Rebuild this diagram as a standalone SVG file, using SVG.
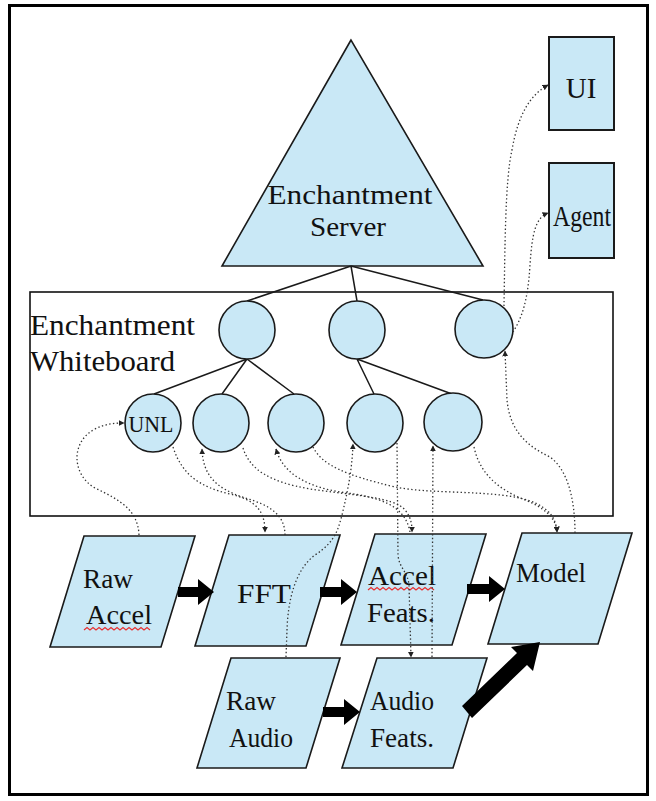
<svg xmlns="http://www.w3.org/2000/svg" width="656" height="801" viewBox="0 0 656 801">
<defs>
<style>
.node{fill:#c9e8f6;stroke:#1a1a1a;stroke-width:1.6}
.box{fill:#c9e8f6;stroke:#1a1a1a;stroke-width:2}
.tree{fill:none;stroke:#1a1a1a;stroke-width:1.5}
.dota{fill:none;stroke:#333;stroke-width:1.3;stroke-dasharray:1.4 2.4;marker-end:url(#ah)}
.big{fill:#000}
.t{font-family:"Liberation Serif","Times New Roman",serif;fill:#111}
.sq{fill:none;stroke:#e83030;stroke-width:1.2}
</style>
<marker id="ah" viewBox="0 0 10 10" refX="9" refY="5" markerWidth="6" markerHeight="6" orient="auto" markerUnits="userSpaceOnUse">
<path d="M0,0 L10,5 L0,10 z" fill="#222"/>
</marker>
</defs>
<rect x="0" y="0" width="656" height="801" fill="#fff"/>
<rect x="9.5" y="5.5" width="638" height="789" fill="none" stroke="#000" stroke-width="3"/>

<g id="server">
<polygon class="node" points="351,40 222,266 483,266"/>
<text class="t" x="350" y="204" font-size="28" text-anchor="middle" textLength="165" lengthAdjust="spacingAndGlyphs">Enchantment</text>
<text class="t" x="348" y="236" font-size="28" text-anchor="middle" textLength="76" lengthAdjust="spacingAndGlyphs">Server</text>
</g>
<g id="ui">
<rect class="box" x="549" y="37" width="65" height="93"/>
<text class="t" x="581" y="98" font-size="29" text-anchor="middle">UI</text>
</g>
<g id="agent">
<rect class="box" x="549" y="163" width="65" height="95"/>
<text class="t" x="582" y="226" font-size="30" text-anchor="middle" textLength="58" lengthAdjust="spacingAndGlyphs">Agent</text>
</g>

<g id="whiteboard">
<rect x="30" y="292" width="583" height="224" fill="none" stroke="#111" stroke-width="1.6"/>
<text class="t" x="30" y="335" font-size="30" textLength="165" lengthAdjust="spacingAndGlyphs">Enchantment</text>
<text class="t" x="30" y="371" font-size="30" textLength="145" lengthAdjust="spacingAndGlyphs">Whiteboard</text>
</g>

<g id="tree-links">
<path class="tree" d="M351,266 L247,301 M351,266 L357,301 M351,266 L483,300"/>
<path class="tree" d="M247,359 L154,394 M247,359 L222,394 M247,359 L294,394 M357,359 L374,394 M357,359 L452,394"/>
</g>

<g id="wb-top-1"><ellipse class="node" cx="247" cy="330" rx="28" ry="29"/></g>
<g id="wb-top-2"><ellipse class="node" cx="357" cy="330" rx="28" ry="29"/></g>
<g id="wb-top-3"><ellipse class="node" cx="484" cy="329" rx="29" ry="29"/></g>
<g id="unl"><ellipse class="node" cx="153" cy="423" rx="28" ry="29"/>
<text class="t" x="151" y="432" font-size="24" text-anchor="middle" textLength="45" lengthAdjust="spacingAndGlyphs">UNL</text></g>
<g id="wb-b2"><ellipse class="node" cx="221" cy="423" rx="28" ry="29"/></g>
<g id="wb-b3"><ellipse class="node" cx="296" cy="423" rx="28" ry="29"/></g>
<g id="wb-b4"><ellipse class="node" cx="375" cy="423" rx="28" ry="29"/></g>
<g id="wb-b5"><ellipse class="node" cx="453" cy="422" rx="29" ry="29"/></g>

<g id="raw-accel">
<polygon class="node" points="84,536 195,536 161,647 50,647"/>
<text class="t" x="83" y="588" font-size="27" textLength="50" lengthAdjust="spacingAndGlyphs">Raw</text>
<text class="t" x="86" y="624" font-size="27" textLength="66" lengthAdjust="spacingAndGlyphs">Accel</text>
<path class="sq" d="M84,630 l3,-2.5 l3,2.5 l3,-2.5 l3,2.5 l3,-2.5 l3,2.5 l3,-2.5 l3,2.5 l3,-2.5 l3,2.5 l3,-2.5 l3,2.5 l3,-2.5 l3,2.5 l3,-2.5 l3,2.5 l3,-2.5 l3,2.5 l3,-2.5 l3,2.5 l3,-2.5 l3,2.5"/>
</g>
<g id="fft">
<polygon class="node" points="229,535 340,535 306,646 195,646"/>
<text class="t" x="237" y="603" font-size="27" textLength="54" lengthAdjust="spacingAndGlyphs">FFT</text>
</g>
<g id="accel-feats">
<polygon class="node" points="375,534 486,534 452,645 341,645"/>
<text class="t" x="368" y="585" font-size="27" textLength="68" lengthAdjust="spacingAndGlyphs">Accel</text>
<path class="sq" d="M368,590 l3,-2.5 l3,2.5 l3,-2.5 l3,2.5 l3,-2.5 l3,2.5 l3,-2.5 l3,2.5 l3,-2.5 l3,2.5 l3,-2.5 l3,2.5 l3,-2.5 l3,2.5 l3,-2.5 l3,2.5 l3,-2.5 l3,2.5 l3,-2.5 l3,2.5 l3,-2.5 l3,2.5"/>
<text class="t" x="367" y="622" font-size="27" textLength="68" lengthAdjust="spacingAndGlyphs">Feats.</text>
</g>
<g id="model">
<polygon class="node" points="522,533 632,533 598,644 488,644"/>
<text class="t" x="516" y="582" font-size="27" textLength="70" lengthAdjust="spacingAndGlyphs">Model</text>
</g>
<g id="raw-audio">
<polygon class="node" points="231,658 340,658 306,768 197,768"/>
<text class="t" x="226" y="710" font-size="27" textLength="50" lengthAdjust="spacingAndGlyphs">Raw</text>
<text class="t" x="229" y="747" font-size="27" textLength="64" lengthAdjust="spacingAndGlyphs">Audio</text>
</g>
<g id="audio-feats">
<polygon class="node" points="377,658 487,658 453,768 342,768"/>
<text class="t" x="370" y="710" font-size="27" textLength="64" lengthAdjust="spacingAndGlyphs">Audio</text>
<text class="t" x="370" y="747" font-size="27" textLength="64" lengthAdjust="spacingAndGlyphs">Feats.</text>
</g>

<g id="connectors">
<polygon class="big" points="178,587 198,587 198,579 214,592 198,605 198,597 178,597"/>
<polygon class="big" points="320,587 341,587 341,579 357,592 341,605 341,597 320,597"/>
<polygon class="big" points="467,584 489,584 489,576 505,589 489,602 489,594 467,594"/>
<polygon class="big" points="323,707 344,707 344,699 360,712 344,725 344,717 323,717"/>
<polygon class="big" points="462,706 517,653 511,647 540,642 533,671 527,665 472,718"/>

<path class="dota" d="M139,535 C138,510 120,500 95,488 C72,475 70,442 95,429 C105,424 114,423 124,423"/>
<path class="dota" d="M173,447 C182,475 200,487 230,494 C255,500 265,510 265,532"/>
<path class="dota" d="M285,535 C285,515 270,505 245,498 C215,488 203,475 202,449"/>
<path class="dota" d="M243,448 C250,470 270,482 310,489 C350,495 395,497 405,510 C410,516 412,522 412,532"/>
<path class="dota" d="M410,532 C405,505 380,497 340,492 C310,487 283,475 276,449"/>
<path class="dota" d="M313,447 C322,465 345,475 395,487 C430,494 480,490 520,498 C545,504 556,515 557,532"/>
<path class="dota" d="M474,447 C480,475 500,490 525,500 C545,508 556,518 557,532"/>
<path class="dota" d="M432,657 L433,446"/>
<path class="dota" d="M397,443 L398,555 C399,568 408,572 409,585 L411,657"/>
<path class="dota" d="M286,657 L287,630 C288,600 295,570 315,555 C335,542 338,530 342,515 C348,490 352,470 353,444"/>
<path class="dota" d="M575,533 C575,500 568,470 550,457 C525,445 510,430 507,400 L505,351"/>
<path class="dota" d="M504,306 C505,250 505,180 512,150 C518,115 530,95 548,85"/>
<path class="dota" d="M513,332 C522,318 528,300 530,265 C532,235 535,218 548,213"/>
</g>
</svg>
